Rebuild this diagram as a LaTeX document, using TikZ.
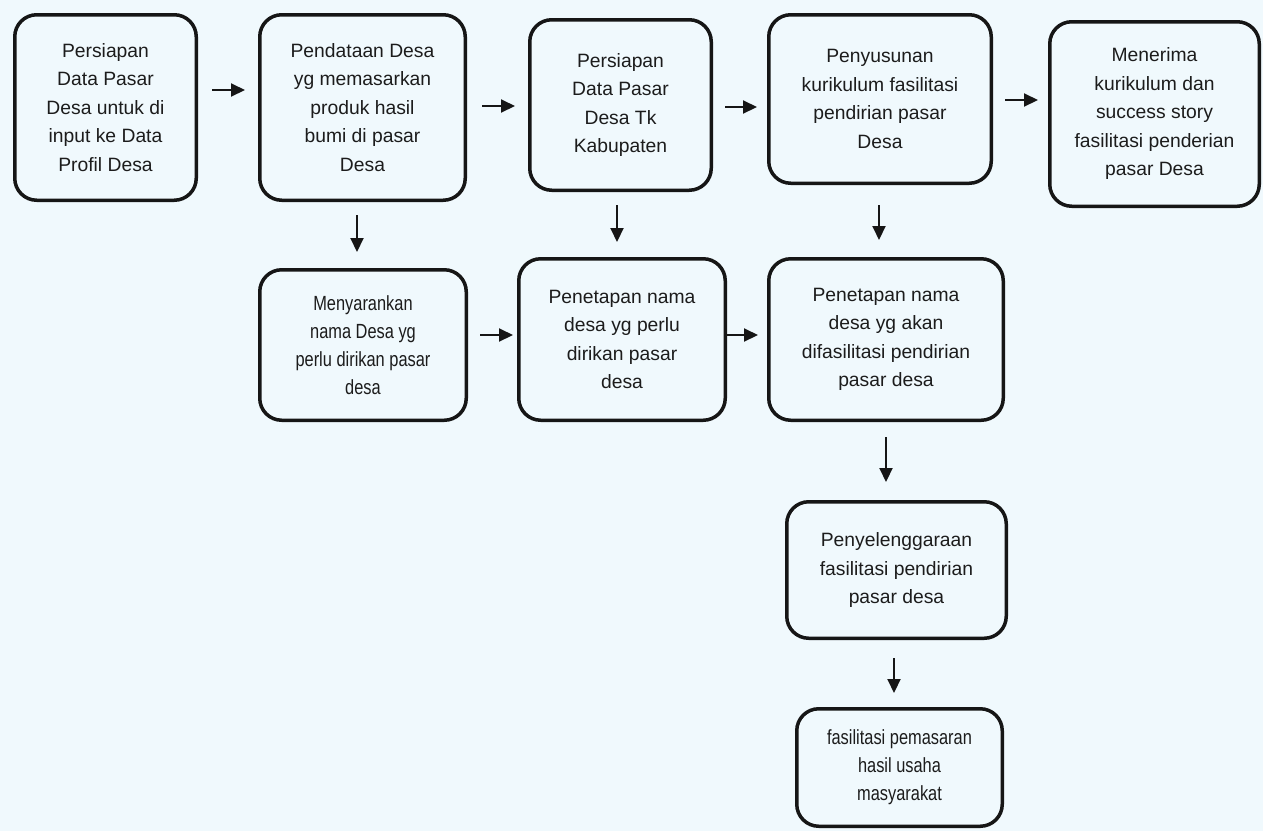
\documentclass[tikz,border=0pt]{standalone}
\usepackage{fontspec}
\setmainfont{Liberation Sans}
\newfontfamily\narrowfont[FakeStretch=0.8]{Liberation Sans}
\usetikzlibrary{arrows.meta}
\definecolor{bgc}{RGB}{240,249,253}
\definecolor{edgec}{RGB}{22,22,22}
\definecolor{txtc}{RGB}{28,28,28}
\tikzset{
  box/.style={draw=edgec, line width=3.5pt, rounded corners=22pt, inner sep=0pt,
    align=center, text=txtc, font=\fontsize{19.3pt}{28.5pt}\selectfont},
  narrowbox/.style={box, font=\narrowfont\fontsize{20.5pt}{28pt}\selectfont},
  arr/.style={draw=edgec, line width=2pt, -{Triangle[length=14pt,width=13pt]}}
}
\begin{document}
\begin{tikzpicture}[x=1pt,y=-1pt]
\fill[bgc] (0,0) rectangle (1263,831);
\useasboundingbox (0,0) rectangle (1263,831);
% top row
\node[box, minimum width=181.5pt, minimum height=185.5pt] (b1) at (105.5,107.5)
  {Persiapan\\Data Pasar\\Desa untuk di\\input ke Data\\Profil Desa};
\node[box, minimum width=205.5pt, minimum height=185.5pt] (b2) at (362.5,107.5)
  {Pendataan Desa\\yg memasarkan\\produk hasil\\bumi di pasar\\Desa};
\node[box, minimum width=181.5pt, minimum height=170.5pt] (b3) at (620.5,105)
  {Persiapan\\Data Pasar\\Desa Tk\\Kabupaten};
\node[box, minimum width=222.5pt, minimum height=168.5pt] (b4) at (880,99)
  {Penyusunan\\kurikulum fasilitasi\\pendirian pasar\\Desa};
\node[box, minimum width=209.5pt, minimum height=184.5pt] (b5) at (1154.5,114)
  {Menerima\\kurikulum dan\\success story\\fasilitasi penderian\\pasar Desa};
% middle row
\node[narrowbox, minimum width=206.5pt, minimum height=150.5pt] (b6) at (363,345)
  {Menyarankan\\nama Desa yg\\perlu dirikan pasar\\desa};
\node[box, minimum width=206.5pt, minimum height=161.5pt] (b7) at (622,339.5)
  {Penetapan nama\\desa yg perlu\\dirikan pasar\\desa};
\node[box, minimum width=234.5pt, minimum height=161.5pt] (b8) at (886,339.5)
  {Penetapan nama\\desa yg akan\\difasilitasi pendirian\\pasar desa};
% lower
\node[box, minimum width=219.5pt, minimum height=136.5pt] (b9) at (896.5,570)
  {Penyelenggaraan\\fasilitasi pendirian\\pasar desa};
\node[narrowbox, minimum width=205.5pt, minimum height=117.5pt] (b10) at (899.5,767.5)
  {fasilitasi pemasaran\\hasil usaha\\masyarakat};
% arrows top row
\draw[arr, shorten <=14pt, shorten >=13pt] ([yshift=17.5pt]b1.east) -- ([yshift=17.5pt]b2.west);
\draw[arr, shorten <=15pt, shorten >=13pt] ([yshift=1.5pt]b2.east) -- ([yshift=-1pt]b3.west);
\draw[arr, shorten <=12pt, shorten >=10pt] ([yshift=-2pt]b3.east) -- ([yshift=-8pt]b4.west);
\draw[arr, shorten <=12pt, shorten >=10pt] ([yshift=-1pt]b4.east) -- ([yshift=14pt]b5.west);
% down arrows
\draw[arr, shorten <=13pt, shorten >=16pt] ([xshift=-5.5pt]b2.south) -- ([xshift=-6pt]b6.north);
\draw[arr, shorten <=13pt, shorten >=15pt] ([xshift=-3.5pt]b3.south) -- ([xshift=-5pt]b7.north);
\draw[arr, shorten <=20pt, shorten >=17pt] ([xshift=-1pt]b4.south) -- ([xshift=-7pt]b8.north);
\draw[arr, shorten <=15pt, shorten >=18pt] (b8.south) -- ([xshift=-10.5pt]b9.north);
\draw[arr, shorten <=18pt, shorten >=14pt] ([xshift=-2.5pt]b9.south) -- ([xshift=-5.5pt]b10.north);
% middle arrows
\draw[arr, shorten <=12pt, shorten >=4pt] ([yshift=10pt]b6.east) -- ([yshift=4.5pt]b7.west);
\draw[arr, shorten <=0pt, shorten >=9pt] ([yshift=4.5pt]b7.east) -- ([yshift=4.5pt]b8.west);
\end{tikzpicture}
\end{document}
